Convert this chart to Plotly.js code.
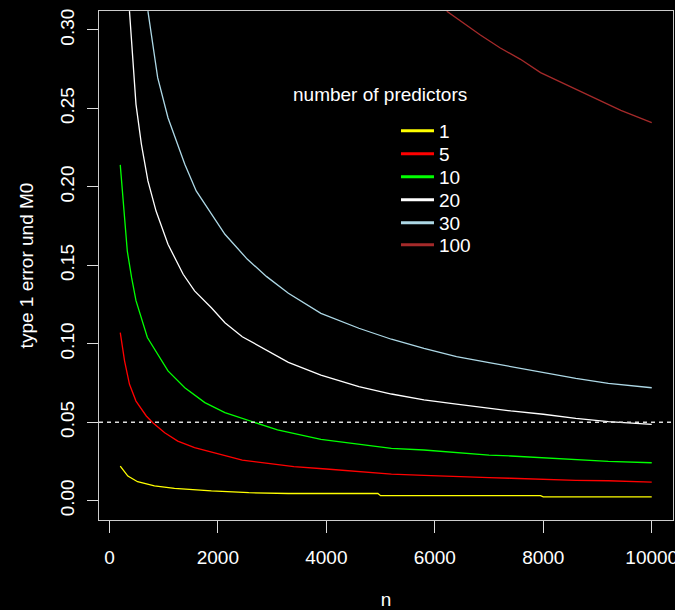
<!DOCTYPE html>
<html>
<head>
<meta charset="utf-8">
<script src="https://cdn.plot.ly/plotly-3.0.1.min.js"></script>
<style>html,body{margin:0;padding:0;background:#000;}#chart{width:675px;height:610px;}</style>
</head>
<body>
<div id="chart"></div>
<script>
// number of predictors -> (n, type 1 error)
var labels = ["1", "5", "10", "20", "30", "100"];
var colors = ["#FFFF00", "#FF0000", "#00FF00", "#FFFFFF", "#ADD8E6", "#A52A2A"];

var n1 = [200, 340, 520, 830, 1200, 1570, 1880, 2570, 3300, 4950, 5000, 7950, 8000, 10000];
var v1 = [0.0221, 0.0157, 0.0121, 0.0094, 0.0079, 0.0068, 0.0062, 0.0051, 0.0046, 0.0046, 0.0032, 0.0032, 0.0024, 0.0024];

var n5 = [200, 280, 370, 490, 680, 800, 1020, 1260, 1570, 1940, 2130, 2450, 3000, 3400, 4000, 4600, 5200, 5800, 6400, 7000, 7400, 8000, 8600, 9200, 10000];
var v5 = [0.1071, 0.089, 0.0742, 0.0635, 0.054, 0.0497, 0.0433, 0.038, 0.0338, 0.0306, 0.0289, 0.0259, 0.0234, 0.0217, 0.0202, 0.0185, 0.017, 0.0162, 0.0153, 0.0147, 0.0143, 0.0136, 0.013, 0.0127, 0.0119];

var n10 = [200, 270, 330, 410, 490, 700, 1080, 1390, 1760, 2130, 2630, 3100, 3900, 4600, 5200, 5800, 6400, 7000, 7400, 8000, 8600, 9200, 10000];
var v10 = [0.214, 0.1846, 0.159, 0.142, 0.1275, 0.104, 0.0827, 0.072, 0.0625, 0.0561, 0.0504, 0.0451, 0.0391, 0.0359, 0.0334, 0.0323, 0.0306, 0.0291, 0.0285, 0.0274, 0.0259, 0.0251, 0.0242];

var n20 = [370, 430, 490, 590, 710, 860, 1080, 1360, 1570, 1880, 2130, 2450, 2900, 3300, 3900, 4600, 5200, 5800, 6400, 7000, 7400, 8000, 8600, 9200, 10000];
var v20 = [0.312, 0.2802, 0.2526, 0.2271, 0.2038, 0.1846, 0.1634, 0.1443, 0.1337, 0.123, 0.1134, 0.1045, 0.096, 0.0882, 0.0801, 0.0727, 0.068, 0.0642, 0.0616, 0.0589, 0.0572, 0.0551, 0.0525, 0.0504, 0.0487];

var n30 = [710, 800, 890, 1080, 1230, 1390, 1600, 1880, 2130, 2540, 2900, 3300, 3900, 4600, 5200, 5800, 6400, 7000, 7400, 8000, 8600, 9200, 10000];
var v30 = [0.312, 0.2909, 0.2696, 0.2441, 0.2293, 0.2144, 0.1974, 0.1825, 0.1698, 0.154, 0.1428, 0.1322, 0.1194, 0.1099, 0.1029, 0.0971, 0.0918, 0.088, 0.0854, 0.0816, 0.078, 0.0748, 0.072];

var n100 = [6220, 6600, 6840, 7200, 7580, 7950, 8440, 8930, 9430, 10000];
var v100 = [0.312, 0.3025, 0.2968, 0.2887, 0.2813, 0.2728, 0.2649, 0.2573, 0.2488, 0.2409];

var xTicks = [0, 2000, 4000, 6000, 8000, 10000];
var yTicks = [0, 0.05, 0.10, 0.15, 0.20, 0.25, 0.30];
var yTickText = ["0.00", "0.05", "0.10", "0.15", "0.20", "0.25", "0.30"];
var alphaLevel = 0.05;

var xs = [n1, n5, n10, n20, n30, n100];
var ys = [v1, v5, v10, v20, v30, v100];

var FONT = "Liberation Sans, Arial, Helvetica, sans-serif";
var FS = 19;
var traces = [];
for (var i = 0; i < xs.length; i++) {
  traces.push({x: xs[i], y: ys[i], type: "scatter", mode: "lines",
    line: {color: colors[i], width: 1.3}, showlegend: false, hoverinfo: "skip"});
}
var legendNames = ["legend", "legend2", "legend3", "legend4", "legend5", "legend6"];
for (var j = 0; j < labels.length; j++) {
  traces.push({x: [null], y: [null], type: "scatter", mode: "lines", name: labels[j],
    legend: legendNames[j], line: {color: colors[j], width: 3}, showlegend: true});
}

var layout = {
  width: 675, height: 610,
  margin: {l: 99, r: 2, t: 11, b: 90},
  paper_bgcolor: "#000", plot_bgcolor: "#000",
  font: {family: FONT, size: FS, color: "#fff"},
  xaxis: {range: [-192, 10392], tickvals: xTicks, ticktext: xTicks.map(String),
    ticks: "outside", ticklen: 12, tickcolor: "#ddd", tickwidth: 1, ticklabelstandoff: 8,
    ticklabeloverflow: "allow",
    showgrid: false, zeroline: false, showline: true, mirror: true, linecolor: "#ccc", linewidth: 1,
    tickfont: {family: FONT, size: FS, color: "#fff"},
    title: {text: "n", font: {family: FONT, size: FS, color: "#fff"}, standoff: 34}},
  yaxis: {range: [-0.0123, 0.3121], tickvals: yTicks, ticktext: yTickText, tickangle: -90,
    ticks: "outside", ticklen: 11, tickcolor: "#ddd", tickwidth: 1, ticklabelstandoff: 5,
    showgrid: false, zeroline: false, showline: true, mirror: true, linecolor: "#ccc", linewidth: 1,
    tickfont: {family: FONT, size: FS, color: "#fff"},
    title: {text: "type 1 error und M0", font: {family: FONT, size: FS, color: "#fff"}, standoff: 18}},
  shapes: [{type: "line", xref: "paper", x0: 0, x1: 1, yref: "y", y0: alphaLevel, y1: alphaLevel,
    line: {color: "#ddd", width: 1.3, dash: "4px,4px"}}],
  annotations: [{text: "number of predictors", xref: "paper", yref: "paper", x: 0.4895, y: 0.835,
    xanchor: "center", yanchor: "middle", showarrow: false, font: {family: FONT, size: FS, color: "#fff"}}]
};
var legendY = [0.7642, 0.7191, 0.6739, 0.6287, 0.5835, 0.5403];
for (var k = 0; k < legendNames.length; k++) {
  layout[legendNames[k]] = {x: 0.5174, xanchor: "left", y: legendY[k], yanchor: "middle",
    bgcolor: "rgba(0,0,0,0)", borderwidth: 0, itemwidth: 33,
    font: {family: FONT, size: FS, color: "#fff"}};
}

Plotly.newPlot("chart", traces, layout, {displayModeBar: false, staticPlot: true});
</script>
</body>
</html>
